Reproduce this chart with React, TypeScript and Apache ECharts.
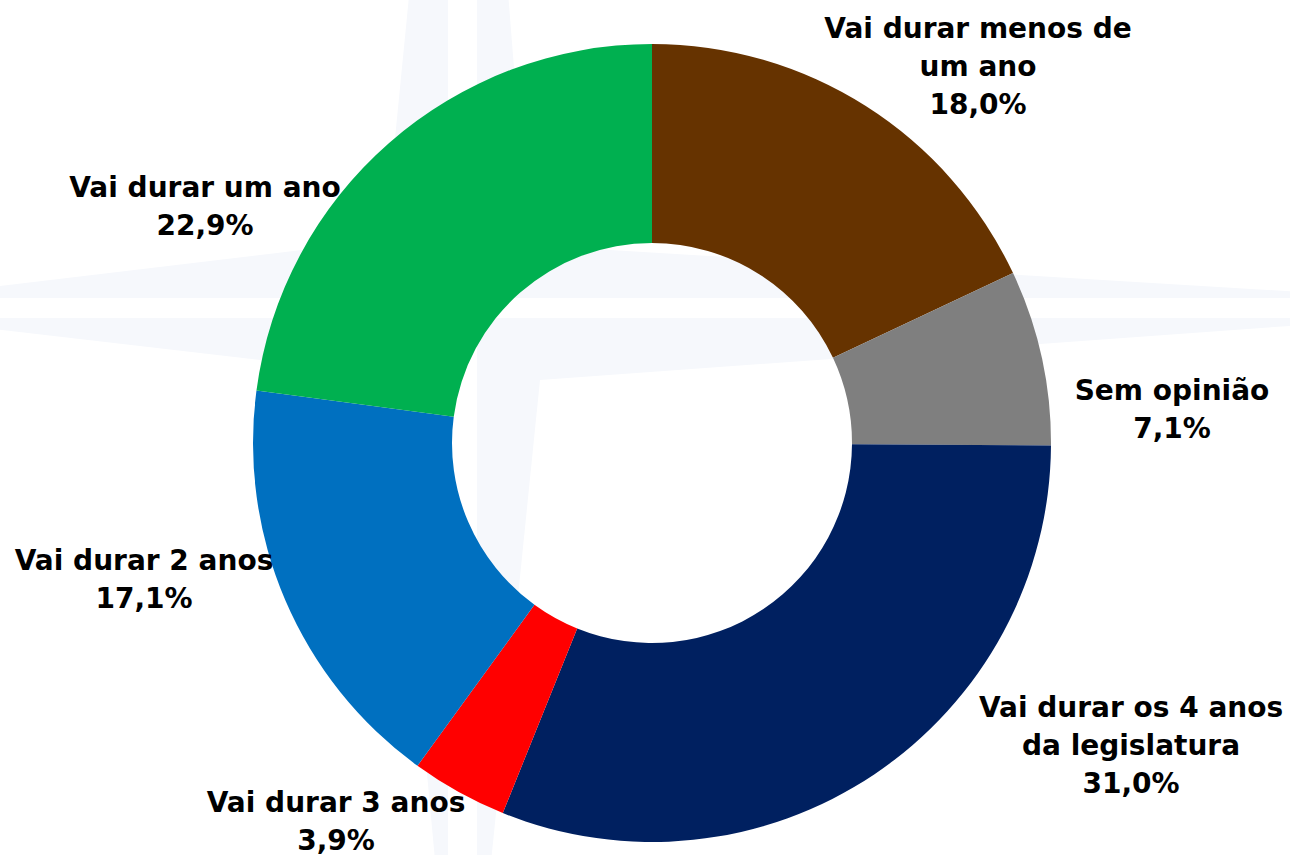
import React, { useEffect, useRef } from "react";
import * as echarts from "echarts";

const categories = [
  "Vai durar menos de\num ano",
  "Sem opinião",
  "Vai durar os 4 anos\nda legislatura",
  "Vai durar 3 anos",
  "Vai durar 2 anos",
  "Vai durar um ano",
];
const values = [18.0, 7.1, 31.0, 3.9, 17.1, 22.9];
const colors = ["#663300", "#7F7F7F", "#002060", "#FF0000", "#0070C0", "#00B050"];

// label block centres (px)
const labelCenters = [
  [978, 66],
  [1172, 409],
  [1131, 745],
  [336, 821],
  [144, 579],
  [205, 206],
];

// faint compass watermark quadrants
const watermark = [
  [[448, 298], [-100, 298], [385, 240], [448, -400]],
  [[477, 298], [477, -400], [528, 245], [1400, 298]],
  [[477, 318], [1400, 318], [540, 380], [477, 1000]],
  [[448, 318], [448, 1000], [390, 375], [-100, 318]],
];

export default function App() {
  const ref = useRef<HTMLDivElement>(null);
  useEffect(() => {
    document.body.style.margin = "0";
    const chart = echarts.init(ref.current!, null, { renderer: "svg" });
    chart.setOption({
      animation: false,
      backgroundColor: "#FFFFFF",
      graphic: watermark.map((pts) => ({
        type: "polygon",
        silent: true,
        z: -10,
        shape: { points: pts },
        style: { fill: "#F6F8FC" },
      })),
      series: [
        {
          type: "pie",
          center: [652, 443],
          radius: [200, 399],
          startAngle: 90,
          clockwise: true,
          avoidLabelOverlap: false,
          itemStyle: { borderWidth: 0 },
          label: {
            show: true,
            position: "outside",
            color: "#000000",
            fontFamily: "DejaVu Sans",
            fontWeight: "bold",
            fontSize: 28,
            lineHeight: 38,
            align: "center",
            formatter: (p: any) =>
              p.name + "\n" + Number(p.value).toFixed(1).replace(".", ",") + "%",
          },
          labelLine: { show: false },
          labelLayout: (params: any) => {
            const c = labelCenters[params.dataIndex];
            return { x: c[0], y: c[1], align: "center", verticalAlign: "middle" };
          },
          data: categories.map((name, i) => ({
            name,
            value: values[i],
            itemStyle: { color: colors[i] },
          })),
        },
      ],
    });
    return () => chart.dispose();
  }, []);
  return <div ref={ref} style={{ width: 1290, height: 855 }} />;
}
